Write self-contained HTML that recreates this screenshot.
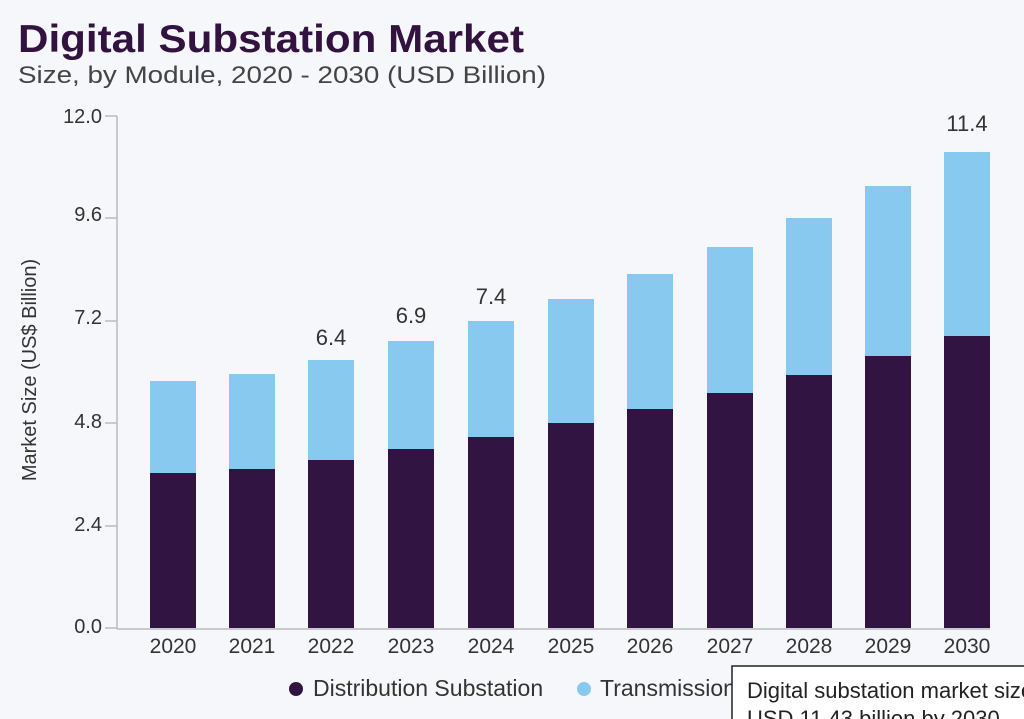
<!DOCTYPE html>
<html><head><meta charset="utf-8"><style>
html,body{margin:0;padding:0;background:#f5f7fb;}
svg{display:block;font-family:"Liberation Sans",sans-serif;}
</style></head><body>
<svg width="1024" height="719" viewBox="0 0 1024 719">
<rect width="1024" height="719" fill="#f5f7fb"/>
<text x="18" y="52" font-size="39" font-weight="bold" fill="#32133f" textLength="506" lengthAdjust="spacingAndGlyphs">Digital Substation Market</text>
<text x="18" y="83" font-size="24" fill="#444" textLength="528" lengthAdjust="spacingAndGlyphs">Size, by Module, 2020 - 2030 (USD Billion)</text>
<g stroke="#bbb" stroke-width="1.5">
<line x1="117" y1="116" x2="117" y2="629"/>
<line x1="117" y1="629" x2="990" y2="629"/>
<line x1="105" y1="116" x2="117" y2="116"/>
<line x1="105" y1="218" x2="117" y2="218"/>
<line x1="105" y1="321" x2="117" y2="321"/>
<line x1="105" y1="423" x2="117" y2="423"/>
<line x1="105" y1="526" x2="117" y2="526"/>
<line x1="105" y1="628" x2="117" y2="628"/>
</g>
<g font-size="20" fill="#333" text-anchor="end">
<text x="102" y="123">12.0</text>
<text x="102" y="221">9.6</text>
<text x="102" y="324">7.2</text>
<text x="102" y="428">4.8</text>
<text x="102" y="531">2.4</text>
<text x="102" y="633">0.0</text>
</g>
<text transform="translate(36,370) rotate(-90)" font-size="20" fill="#333" text-anchor="middle">Market Size (US$ Billion)</text>
<g fill="#88c9f0">
<rect x="150" y="381" width="46" height="247"/>
<rect x="229" y="374" width="46" height="254"/>
<rect x="308" y="360" width="46" height="268"/>
<rect x="388" y="341" width="46" height="287"/>
<rect x="468" y="321" width="46" height="307"/>
<rect x="548" y="299" width="46" height="329"/>
<rect x="627" y="274" width="46" height="354"/>
<rect x="707" y="247" width="46" height="381"/>
<rect x="786" y="218" width="46" height="410"/>
<rect x="865" y="186" width="46" height="442"/>
<rect x="944" y="152" width="46" height="476"/>
</g>
<g fill="#311442">
<rect x="150" y="473" width="46" height="155"/>
<rect x="229" y="469" width="46" height="159"/>
<rect x="308" y="460" width="46" height="168"/>
<rect x="388" y="449" width="46" height="179"/>
<rect x="468" y="437" width="46" height="191"/>
<rect x="548" y="423" width="46" height="205"/>
<rect x="627" y="409" width="46" height="219"/>
<rect x="707" y="393" width="46" height="235"/>
<rect x="786" y="375" width="46" height="253"/>
<rect x="865" y="356" width="46" height="272"/>
<rect x="944" y="336" width="46" height="292"/>
</g>
<g font-size="22" fill="#333" text-anchor="middle">
<text x="331" y="345">6.4</text>
<text x="411" y="323">6.9</text>
<text x="491" y="304">7.4</text>
<text x="967" y="131">11.4</text>
</g>
<g font-size="21" fill="#333" text-anchor="middle">
<text x="173" y="653">2020</text><text x="252" y="653">2021</text><text x="331" y="653">2022</text>
<text x="411" y="653">2023</text><text x="491" y="653">2024</text><text x="571" y="653">2025</text>
<text x="650" y="653">2026</text><text x="730" y="653">2027</text><text x="809" y="653">2028</text>
<text x="888" y="653">2029</text><text x="967" y="653">2030</text>
</g>
<circle cx="296" cy="689" r="7" fill="#311442"/>
<text x="313" y="696" font-size="23" fill="#333">Distribution Substation</text>
<circle cx="584" cy="689" r="7" fill="#88c9f0"/>
<text x="600" y="696" font-size="23" fill="#333">Transmission Substation</text>
<rect x="732" y="666" width="300" height="60" fill="#fff" stroke="#222" stroke-width="1.5"/>
<text x="747" y="698" font-size="22" fill="#222">Digital substation market size</text>
<text x="747" y="726" font-size="22" fill="#222">USD 11.43 billion by 2030</text>
</svg>
</body></html>
